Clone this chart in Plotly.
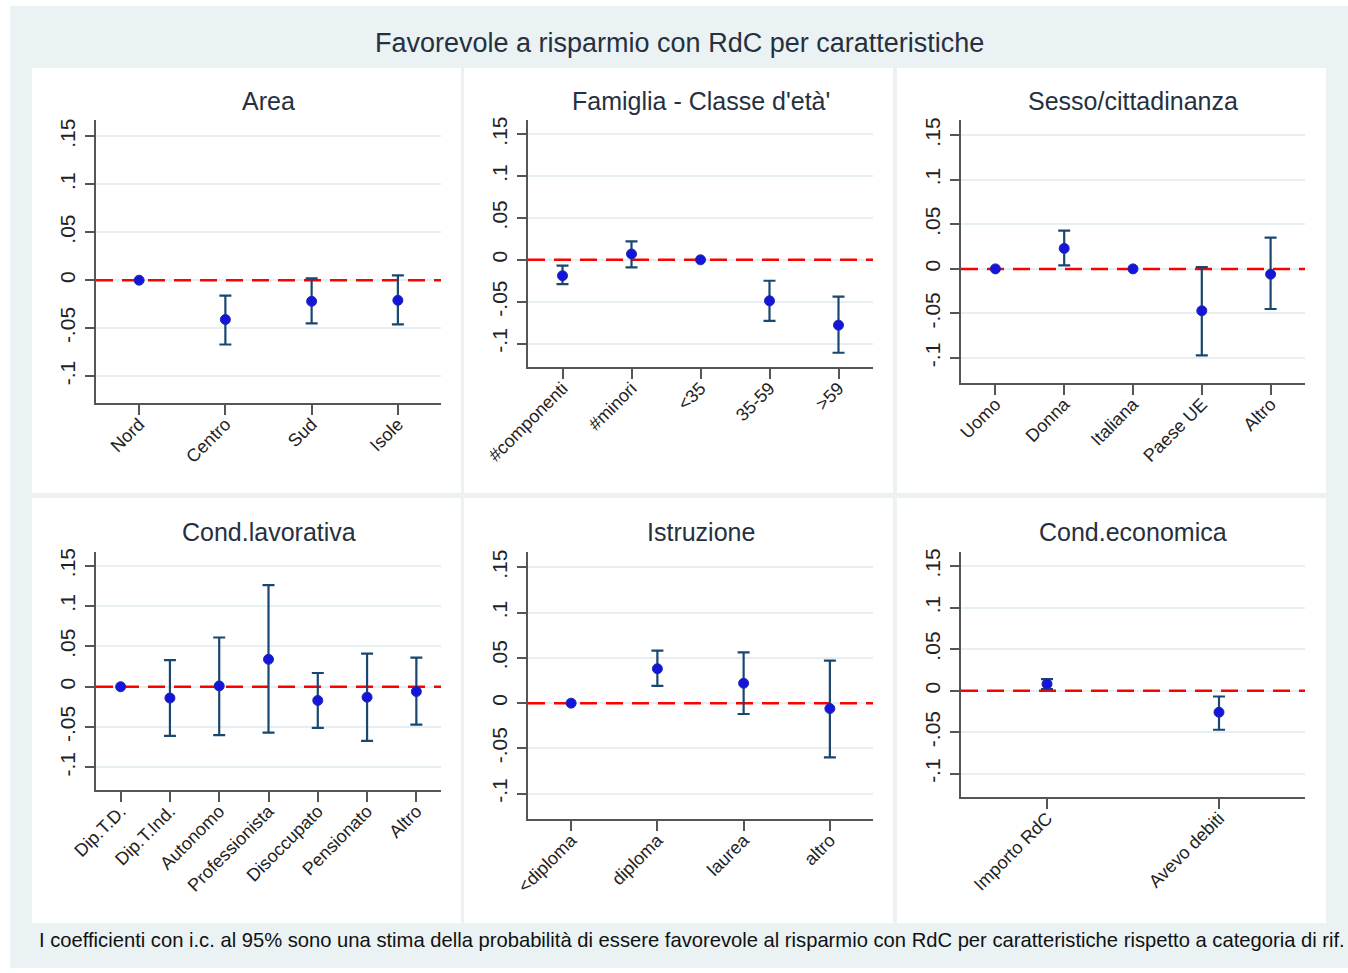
import plotly.graph_objects as go

# ---- data: point estimates with 95% confidence bounds (None = reference category)
area_cats = ["Nord", "Centro", "Sud", "Isole"]
area_est = [0.0, -0.041, -0.022, -0.021]
area_lo = [None, -0.067, -0.045, -0.046]
area_hi = [None, -0.016, 0.002, 0.005]

fam_cats = ["#componenti", "#minori", "<35", "35-59", ">59"]
fam_est = [-0.019, 0.007, 0.0, -0.049, -0.078]
fam_lo = [-0.029, -0.009, None, -0.073, -0.111]
fam_hi = [-0.007, 0.022, None, -0.025, -0.044]

sex_cats = ["Uomo", "Donna", "Italiana", "Paese UE", "Altro"]
sex_est = [0.0, 0.023, 0.0, -0.047, -0.006]
sex_lo = [None, 0.004, None, -0.097, -0.045]
sex_hi = [None, 0.043, None, 0.002, 0.035]

lav_cats = ["Dip.T.D.", "Dip.T.Ind.", "Autonomo", "Professionista",
            "Disoccupato", "Pensionato", "Altro"]
lav_est = [0.0, -0.014, 0.001, 0.034, -0.017, -0.013, -0.006]
lav_lo = [None, -0.061, -0.060, -0.057, -0.051, -0.067, -0.047]
lav_hi = [None, 0.033, 0.061, 0.126, 0.017, 0.041, 0.036]

ist_cats = ["<diploma", "diploma", "laurea", "altro"]
ist_est = [0.0, 0.038, 0.022, -0.006]
ist_lo = [None, 0.019, -0.012, -0.060]
ist_hi = [None, 0.058, 0.056, 0.047]

eco_cats = ["Importo RdC", "Avevo debiti"]
eco_est = [0.008, -0.026]
eco_lo = [0.002, -0.047]
eco_hi = [0.014, -0.007]

y_tickvals = [-0.1, -0.05, 0, 0.05, 0.1, 0.15]
y_ticktext = ["-.1", "-.05", "0", ".05", ".1", ".15"]
y_range = [-0.128, 0.167]

panels = [
    ("Area", area_cats, area_est, area_lo, area_hi),
    ("Famiglia - Classe d'età'", fam_cats, fam_est, fam_lo, fam_hi),
    ("Sesso/cittadinanza", sex_cats, sex_est, sex_lo, sex_hi),
    ("Cond.lavorativa", lav_cats, lav_est, lav_lo, lav_hi),
    ("Istruzione", ist_cats, ist_est, ist_lo, ist_hi),
    ("Cond.economica", eco_cats, eco_est, eco_lo, eco_hi),
]

# ---- layout geometry (pixels)
W, H = 1348, 973
plot_boxes = [  # x0, x1, y0 (top), y1 (bottom)
    (96, 441, 120, 403),
    (528, 873, 120, 367),
    (961, 1305, 120, 383),
    (96, 441, 552, 790),
    (528, 873, 552, 819),
    (961, 1305, 552, 797),
]
title_y = [101, 101, 101, 532, 532, 532]
cell_cols = [(32, 461), (464, 893), (897, 1326)]
cell_rows = [(68, 493), (498, 923)]

FONT = "Arial, Liberation Sans, sans-serif"
NAVY = "#1A476F"
DOT = "#1414DC"
AXIS = "#555555"
GRID = "#E6EFF1"
BG = "#EAF2F3"


def esc(s):
    return s.replace("<", "&lt;").replace(">", "&gt;")


fig = go.Figure()
shapes = [dict(type="rect", xref="paper", yref="paper", x0=10 / W, x1=1.0,
               y0=1 - 968 / H, y1=1 - 6 / H, fillcolor=BG, line_width=0,
               layer="below")]
for (cy0, cy1) in cell_rows:
    for (cx0, cx1) in cell_cols:
        shapes.append(dict(type="rect", xref="paper", yref="paper",
                           x0=cx0 / W, x1=cx1 / W, y0=1 - cy1 / H, y1=1 - cy0 / H,
                           fillcolor="white", line_width=0, layer="below"))

annotations = []
layout_axes = {}
for i, ((title, cats, est, lo, hi), (x0, x1, y0, y1)) in enumerate(zip(panels, plot_boxes)):
    n = i + 1
    xa = "x" if n == 1 else f"x{n}"
    ya = "y" if n == 1 else f"y{n}"
    pos = list(range(1, len(cats) + 1))
    x_range = [0.5, len(cats) + 0.5]

    # dashed red reference line at zero, spanning the whole x range
    fig.add_trace(go.Scatter(
        x=x_range, y=[0, 0], mode="lines", xaxis=xa, yaxis=ya,
        showlegend=False, hoverinfo="skip",
        line=dict(color="#FF0000", width=2.5, dash="17px,9px"),
    ))

    ci_idx = [k for k in range(len(cats)) if lo[k] is not None]
    ref_idx = [k for k in range(len(cats)) if lo[k] is None]

    if ci_idx:
        fig.add_trace(go.Scatter(
            x=[pos[k] for k in ci_idx], y=[est[k] for k in ci_idx],
            mode="markers", xaxis=xa, yaxis=ya, showlegend=False,
            marker=dict(size=10, color=DOT, line=dict(width=1, color="#1E2AA8")),
            error_y=dict(type="data", symmetric=False,
                         array=[hi[k] - est[k] for k in ci_idx],
                         arrayminus=[est[k] - lo[k] for k in ci_idx],
                         color=NAVY, thickness=2.2, width=6),
        ))
    if ref_idx:
        fig.add_trace(go.Scatter(
            x=[pos[k] for k in ref_idx], y=[est[k] for k in ref_idx],
            mode="markers", xaxis=xa, yaxis=ya, showlegend=False,
            marker=dict(size=10, color=DOT, line=dict(width=1, color="#1E2AA8")),
        ))

    layout_axes["xaxis" if n == 1 else f"xaxis{n}"] = dict(
        domain=[x0 / W, x1 / W], anchor=ya, range=x_range,
        tickvals=pos, ticktext=[esc(c) for c in cats], tickangle=-45,
        showgrid=False, zeroline=False, showline=True, linecolor=AXIS,
        linewidth=1.5, ticks="outside", ticklen=10, tickwidth=1.5,
        tickcolor=AXIS, ticklabelstandoff=-8, automargin=False,
        tickfont=dict(family=FONT, size=18, color="#222"),
        fixedrange=True,
    )
    layout_axes["yaxis" if n == 1 else f"yaxis{n}"] = dict(
        domain=[1 - y1 / H, 1 - y0 / H], anchor=xa, range=y_range,
        tickvals=y_tickvals, ticktext=y_ticktext, tickangle=-90,
        showgrid=True, gridcolor=GRID, gridwidth=2, zeroline=False,
        showline=True, linecolor=AXIS, linewidth=1.5, ticks="outside",
        ticklen=9, tickwidth=1.5, tickcolor=AXIS, ticklabelstandoff=2,
        automargin=False,
        tickfont=dict(family=FONT, size=21, color="#222"), fixedrange=True,
    )

    annotations.append(dict(text=title, xref="paper", yref="paper",
                            x=(x0 + x1) / 2 / W, y=1 - title_y[i] / H,
                            xanchor="center", yanchor="middle", showarrow=False,
                            font=dict(family=FONT, size=25, color="#263040")))

annotations.append(dict(text="Favorevole a risparmio con RdC per caratteristiche",
                        xref="paper", yref="paper", x=679 / W, y=1 - 43 / H,
                        xanchor="center", yanchor="middle", showarrow=False,
                        font=dict(family=FONT, size=27, color="#263040")))
annotations.append(dict(text="I coefficienti con i.c. al 95% sono una stima della probabilità di essere "
                             "favorevole al risparmio con RdC per caratteristiche rispetto a categoria di rif.",
                        xref="paper", yref="paper", x=37 / W, y=1 - 940 / H,
                        xanchor="left", yanchor="middle", showarrow=False,
                        font=dict(family=FONT, size=20.2, color="#111")))

fig.update_layout(
    width=W, height=H, margin=dict(l=0, r=0, t=0, b=0, autoexpand=False),
    paper_bgcolor="white", plot_bgcolor="rgba(0,0,0,0)",
    shapes=shapes, annotations=annotations, showlegend=False,
    **layout_axes,
)

fig.write_html("out.html")
